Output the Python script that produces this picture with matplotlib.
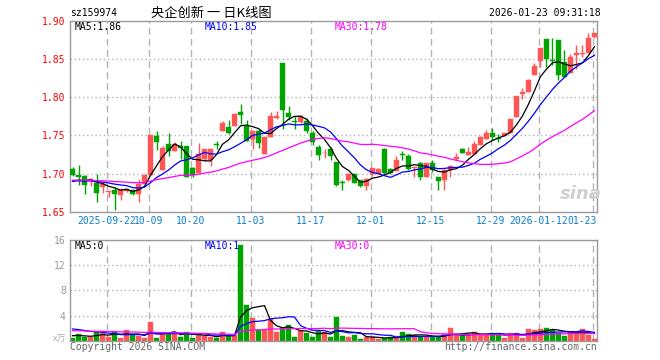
import matplotlib
matplotlib.use('Agg')
import matplotlib.pyplot as plt
import numpy as np

# ---------------- data ----------------
opens = [1.7065, 1.6978, 1.6965, 1.6900, 1.6878, 1.6826, 1.6757, 1.6782, 1.6717, 1.6774,
         1.6782, 1.6730, 1.6869, 1.6978, 1.7496, 1.7050, 1.7390, 1.7295, 1.7360, 1.7356,
         1.7078, 1.7004, 1.7186, 1.7178, 1.7385, 1.7555, 1.7611, 1.7620, 1.7802, 1.7620,
         1.7447, 1.7555, 1.7252, 1.7481, 1.7724, 1.8450, 1.7795, 1.7685, 1.7670, 1.7683,
         1.7531, 1.7344, 1.7262, 1.7326, 1.7152, 1.6885, 1.6909, 1.6987, 1.6913, 1.6835,
         1.6987, 1.7000, 1.7322, 1.7060, 1.7030, 1.7250, 1.7230, 1.7066, 1.7131, 1.6956,
         1.7140, 1.6956, 1.6921, 1.7052, 1.7192, 1.7315, 1.7240, 1.7249, 1.7372, 1.7446,
         1.7533, 1.7462, 1.7490, 1.7533, 1.7743, 1.8040, 1.8062, 1.8289, 1.8477, 1.8761,
         1.8480, 1.8748, 1.8464, 1.8311, 1.8547, 1.8570, 1.8573, 1.8792]
highs = [1.7087, 1.7109, 1.6978, 1.6945, 1.7000, 1.6890, 1.6774, 1.6826, 1.6804, 1.6810,
         1.6800, 1.6922, 1.7000, 1.7510, 1.7560, 1.7357, 1.7530, 1.7410, 1.7425, 1.7356,
         1.7090, 1.7403, 1.7317, 1.7317, 1.7425, 1.7685, 1.7698, 1.7794, 1.7915, 1.7698,
         1.7555, 1.7577, 1.7481, 1.7800, 1.7815, 1.8450, 1.7888, 1.7750, 1.7770, 1.7726,
         1.7552, 1.7378, 1.7315, 1.7350, 1.7152, 1.6920, 1.7009, 1.7009, 1.6920, 1.6943,
         1.7074, 1.7074, 1.7335, 1.7074, 1.7226, 1.7290, 1.7250, 1.7087, 1.7153, 1.7140,
         1.7175, 1.6956, 1.7066, 1.7110, 1.7270, 1.7336, 1.7350, 1.7428, 1.7490, 1.7570,
         1.7590, 1.7516, 1.7524, 1.7712, 1.8014, 1.8114, 1.8237, 1.8450, 1.8639, 1.8761,
         1.8770, 1.8748, 1.8617, 1.8570, 1.8680, 1.8680, 1.8844, 1.8835]
lows = [1.6970, 1.6847, 1.6738, 1.6835, 1.6630, 1.6740, 1.6686, 1.6520, 1.6650, 1.6760,
        1.6720, 1.6630, 1.6860, 1.6978, 1.7310, 1.7050, 1.7226, 1.7295, 1.7186, 1.6950,
        1.6960, 1.7004, 1.7165, 1.7100, 1.7317, 1.7555, 1.7512, 1.7620, 1.7642, 1.7425,
        1.7317, 1.7338, 1.7252, 1.7481, 1.7715, 1.7576, 1.7700, 1.7576, 1.7660, 1.7530,
        1.7378, 1.7183, 1.7200, 1.7183, 1.6835, 1.6790, 1.6900, 1.6870, 1.6826, 1.6783,
        1.6965, 1.7000, 1.7000, 1.7000, 1.7030, 1.7183, 1.7040, 1.6956, 1.6921, 1.6956,
        1.7020, 1.6790, 1.6790, 1.6956, 1.7175, 1.7271, 1.7240, 1.7249, 1.7372, 1.7446,
        1.7437, 1.7415, 1.7490, 1.7533, 1.7743, 1.7975, 1.8062, 1.8289, 1.8398, 1.8398,
        1.8420, 1.8224, 1.8259, 1.8311, 1.8363, 1.8530, 1.8573, 1.8780]
closes = [1.6978, 1.6948, 1.6847, 1.6930, 1.6747, 1.6869, 1.6774, 1.6738, 1.6782, 1.6800,
          1.6730, 1.6869, 1.6978, 1.7510, 1.7410, 1.7340, 1.7290, 1.7380, 1.7330, 1.6957,
          1.6978, 1.7252, 1.7317, 1.7317, 1.7375, 1.7655, 1.7533, 1.7785, 1.7772, 1.7425,
          1.7555, 1.7403, 1.7481, 1.7750, 1.7750, 1.7825, 1.7745, 1.7672, 1.7757, 1.7552,
          1.7409, 1.7239, 1.7270, 1.7226, 1.6848, 1.6872, 1.6987, 1.6878, 1.6835, 1.6922,
          1.7074, 1.7060, 1.7009, 1.7013, 1.7174, 1.7240, 1.7060, 1.7087, 1.6956, 1.7140,
          1.7044, 1.6904, 1.7052, 1.7100, 1.7218, 1.7271, 1.7284, 1.7380, 1.7480, 1.7533,
          1.7480, 1.7455, 1.7524, 1.7712, 1.8014, 1.8062, 1.8224, 1.8407, 1.8639, 1.8499,
          1.8475, 1.8289, 1.8259, 1.8530, 1.8582, 1.8582, 1.8770, 1.8835]
volumes = [0.37, 1.07, 0.64, 0.53, 1.44, 1.17, 0.64, 1.49, 0.37, 1.76,
           0.90, 0.80, 0.37, 2.93, 0.48, 1.07, 1.28, 1.33, 0.64, 1.44,
           0.37, 1.07, 0.80, 0.53, 0.37, 1.33, 0.90, 0.90, 15.2, 5.60,
           3.57, 1.76, 1.76, 3.47, 1.33, 1.97, 2.50, 0.53, 1.60, 1.17,
           0.53, 1.60, 1.33, 0.62, 3.74, 0.73, 0.62, 0.88, 0.31, 0.62,
           0.52, 0.31, 0.36, 0.52, 0.73, 1.40, 0.99, 0.88, 0.62, 0.62,
           0.62, 0.52, 1.14, 2.03, 0.88, 0.88, 1.14, 1.40, 0.88, 0.88,
           1.25, 0.99, 0.47, 1.25, 1.25, 0.47, 1.82, 1.66, 1.82, 2.03,
           1.66, 1.25, 0.78, 1.40, 1.40, 1.82, 0.88, 0.26]

tick_idx = [6, 13, 20, 30, 40, 50, 60, 70, 78, 87]
tick_labels = ['2025-09-22', '10-09', '10-20', '11-03', '11-17', '12-01',
               '12-15', '12-29', '2026-01-12', '01-23']
price_ticks = [1.65, 1.70, 1.75, 1.80, 1.85, 1.90]
price_tick_labels = ['1.65', '1.70', '1.75', '1.80', '1.85', '1.90']
vol_ticks = [4, 8, 12, 16]
vol_tick_labels = ['4', '8', '12', '16']

ma_windows = [5, 10, 30]
price_ma_seed = [1.688, 1.689, 1.691]   # level of each MA before the first visible day
vol_ma_seed = [0.9, 2.03, 1.64]
ma_colors = ['#000000', '#0000FF', '#FF00FF']
price_ma_text = ['MA5:1.86', 'MA10:1.85', 'MA30:1.78']
vol_ma_text = ['MA5:0', 'MA10:1', 'MA30:0']

code = 'sz159974'
title = '央企创新 一 日K线图'
stamp = '2026-01-23 09:31:18'

# ---------------- helpers ----------------
def moving_avg(vals, n, seed):
    arr = np.array([seed] * (n - 1) + list(vals), dtype=float)
    return np.convolve(arr, np.ones(n) / n, mode='valid')

RED = '#FF5555'
GREEN = '#00A400'
GRID = '#b4b4b4'
FRAME = '#9a9a9a'
MONO = 'DejaVu Sans Mono'

W, H = 660, 360
fig = plt.figure(figsize=(6.6, 3.6), dpi=100)
fig.patch.set_facecolor('white')

L, R = 70, 597
ax = fig.add_axes([L / W, 1 - 211.7 / H, (R - L) / W, (211.7 - 20.7) / H])
axv = fig.add_axes([L / W, 1 - 340.7 / H, (R - L) / W, (340.7 - 240) / H])

n = len(closes)
x = np.arange(n)
o = np.array(opens); c = np.array(closes); h = np.array(highs); lo = np.array(lows)
up = c >= o
cols = [RED if u else GREEN for u in up]

xmin, xmax = -0.42, n - 1 + 0.42
grid_x = [i - 0.3 for i in tick_idx]

# ---- price panel ----
for gx in grid_x:
    ax.axvline(gx, color=GRID, lw=1, ls=(0, (5, 3)), zorder=0)
for yv in price_ticks[1:-1]:
    ax.axhline(yv, color=GRID, lw=1, ls=(0, (1, 2)), zorder=0)

ax.vlines(x, lo, h, colors=cols, lw=1, zorder=2)
body_b = np.minimum(o, c)
body_h = np.maximum(np.abs(c - o), 0.0008)
ax.bar(x, body_h, bottom=body_b, width=0.8, color=cols, edgecolor=cols, lw=0.3, zorder=3)

for w, s, col in zip(ma_windows, price_ma_seed, ma_colors):
    ax.plot(x, moving_avg(closes, w, s), color=col, lw=0.9, zorder=4)

ax.set_xlim(xmin, xmax)
ax.set_ylim(1.65, 1.90)
ax.set_yticks(price_ticks)
ax.set_yticklabels(price_tick_labels, color='#FF0000', family=MONO, fontsize=7)
ax.tick_params(axis='y', length=0, pad=3)
ax.set_xticks(tick_idx)
ax.set_xticklabels([])
ax.tick_params(axis='x', length=0)
for sp in ax.spines.values():
    sp.set_color(FRAME)
    sp.set_linewidth(1)

# x labels
last = len(tick_labels) - 1
for k, (gx, lab) in enumerate(zip(grid_x, tick_labels)):
    if k == last:
        ax.text(1.0, -0.05, lab, transform=ax.transAxes, ha='right', va='center',
                color='#0A7FD0', family=MONO, fontsize=7)
    else:
        ax.text(gx, -0.05, lab, transform=ax.get_xaxis_transform(), ha='center', va='center',
                color='#0A7FD0', family=MONO, fontsize=7)

# MA legend texts
for xp, txt, col in zip([75, 205, 335], price_ma_text, ma_colors):
    fig.text(xp / W, 1 - 26.5 / H, txt, color=col, family=MONO, fontsize=7, va='center', ha='left')

# watermark
fig.text(581 / W, 1 - 194 / H, 'sina', color='#cfcfcf', fontsize=13, fontweight='bold',
         style='italic', ha='center', va='center', family='DejaVu Sans')

# ---- volume panel ----
for gx in grid_x:
    axv.axvline(gx, color=GRID, lw=1, ls=(0, (5, 3)), zorder=0)
for yv in vol_ticks[:-1]:
    axv.axhline(yv, color=GRID, lw=1, ls=(0, (1, 2)), zorder=0)
axv.bar(x, volumes, width=0.8, color=cols, edgecolor=cols, lw=0.3, zorder=2)
for w, s, col in zip(ma_windows, vol_ma_seed, ma_colors):
    axv.plot(x, moving_avg(volumes, w, s), color=col, lw=0.9, zorder=3)
axv.set_xlim(xmin, xmax)
axv.set_ylim(0, 16)
axv.set_yticks(vol_ticks)
axv.set_yticklabels(vol_tick_labels, color='#9a9a9a', family=MONO, fontsize=7)
axv.tick_params(axis='y', length=0, pad=3)
axv.set_xticks([])
for sp in axv.spines.values():
    sp.set_color(FRAME)
    sp.set_linewidth(1)

for xp, txt, col in zip([75, 205, 335], vol_ma_text, ma_colors):
    fig.text(xp / W, 1 - 246 / H, txt, color=col, family=MONO, fontsize=7, va='center', ha='left')

fig.text(66.5 / W, 1 - 339.5 / H, 'x万', color='#b0b0b0', fontsize=6.5, ha='right', va='center',
         family=['Noto Sans CJK SC', 'DejaVu Sans'])
fig.text(69.5 / W, 1 - 346.5 / H, 'Copyright 2026 SINA.COM', color='#666666', family=MONO,
         fontsize=7, ha='left', va='center')
fig.text(597 / W, 1 - 346.5 / H, 'http://finance.sina.com.cn', color='#666666', family=MONO,
         fontsize=7, ha='right', va='center')

# ---- header ----
fig.text(70 / W, 1 - 13 / H, code, color='black', family=MONO, fontsize=7, ha='left', va='center')
fig.text(151 / W, 1 - 13 / H, title, color='black', fontsize=9.5, ha='left', va='center',
         family=['Noto Sans CJK SC', 'DejaVu Sans'])
fig.text(601 / W, 1 - 13 / H, stamp, color='black', family=MONO, fontsize=7, ha='right', va='center')

fig.savefig('out.png', dpi=100, facecolor='white')
